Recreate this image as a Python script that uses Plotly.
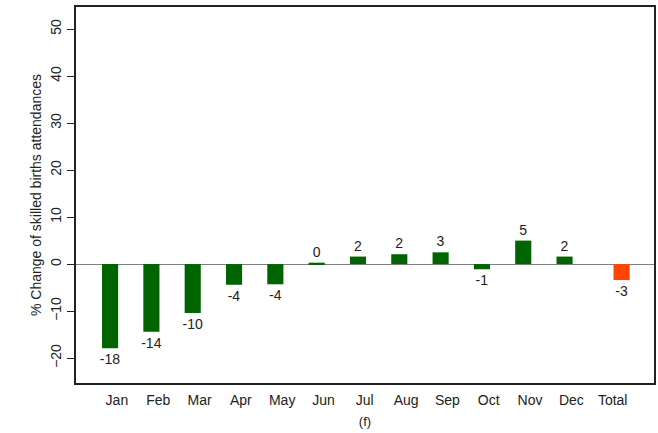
import plotly.graph_objects as go

months = ["Jan", "Feb", "Mar", "Apr", "May", "Jun", "Jul", "Aug", "Sep",
          "Oct", "Nov", "Dec", "Total"]
change = [-17.9, -14.4, -10.4, -4.4, -4.3, 0.3, 1.6, 2.1, 2.5, -1.1, 5.0, 1.6, -3.4]
labels = ["-18", "-14", "-10", "-4", "-4", "0", "2", "2", "3", "-1", "5", "2", "-3"]
yticks = [-20, -10, 0, 10, 20, 30, 40, 50]

GREEN = "#006400"
ORANGE = "#FF4500"
FONT = "Liberation Sans, Arial, Helvetica, sans-serif"

colors = [GREEN] * (len(months) - 1) + [ORANGE]
# bars sit a little left of the month labels, Total a little right
offsets = [-0.36] * (len(months) - 1) + [0.02]

fig = go.Figure()
fig.add_trace(go.Bar(
    x=months,
    y=change,
    width=0.39,
    offset=offsets,
    marker_color=colors,
    marker_line=dict(width=0),
    text=labels,
    textposition="outside",
    constraintext="none",
    textfont=dict(size=14, color="#222222", family=FONT),
    cliponaxis=False,
    showlegend=False,
))

fig.update_layout(
    width=658,
    height=433,
    plot_bgcolor="#FFFFFF",
    paper_bgcolor="#FFFFFF",
    font=dict(family=FONT, size=14, color="#222222"),
    margin=dict(l=76, r=4, t=7, b=50),
    xaxis=dict(
        type="category",
        range=[-0.99, 13.0],
        automargin=False,
        showline=True, linecolor="#222222", linewidth=2, mirror=True,
        ticks="", showgrid=False,
        tickfont=dict(size=14),
        ticklabelstandoff=3,
        title=dict(text="(f)", font=dict(size=13), standoff=10),
    ),
    yaxis=dict(
        range=[-25.3, 54.7],
        automargin=False,
        tickvals=yticks,
        tickangle=-90,
        ticks="outside", ticklen=7, tickcolor="#222222",
        showline=True, linecolor="#222222", linewidth=2, mirror=True,
        showgrid=False,
        zeroline=True, zerolinecolor="#808080", zerolinewidth=1,
        tickfont=dict(size=14),
        title=dict(text="% Change of skilled births attendances",
                   font=dict(size=14), standoff=4),
    ),
)

# drop the default page margin so the figure sits at the window corner
fig.write_html("out.html", config={"displayModeBar": False},
               post_script="document.body.style.margin='0';")
